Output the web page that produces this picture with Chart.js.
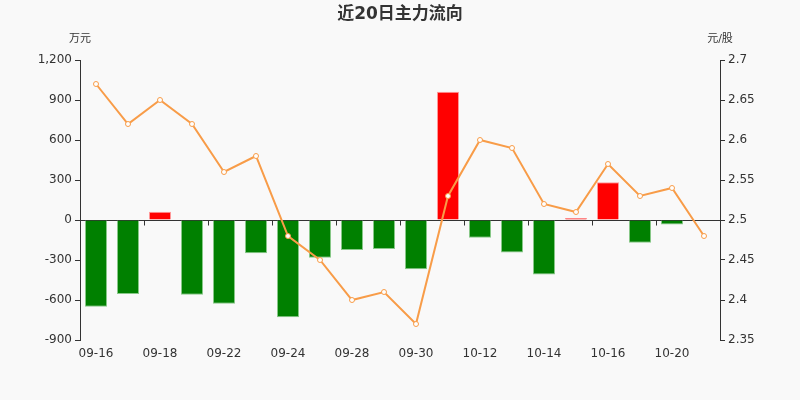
<!DOCTYPE html>
<html>
<head>
<meta charset="utf-8">
<script src="https://cdn.jsdelivr.net/npm/chart.js@4"></script>
<style>
html,body{margin:0;padding:0;background:#f9f9f9;}
#wrap{width:800px;height:400px;position:relative;}
</style>
</head>
<body>
<div id="wrap"><canvas id="c" width="800" height="400"></canvas></div>
<script>
const categories = ['09-16','09-17','09-18','09-21','09-22','09-23','09-24','09-25','09-28','09-29','09-30','10-09','10-12','10-13','10-14','10-15','10-16','10-19','10-20','10-21'];
const flowValues = [-650,-555,62,-560,-628,-250,-730,-283,-225,-218,-370,962,-133,-243,-408,15,283,-170,-33,null];
const priceValues = [2.67,2.62,2.65,2.62,2.56,2.58,2.48,2.45,2.40,2.41,2.37,2.53,2.60,2.59,2.52,2.51,2.57,2.53,2.54,2.48];
const leftTicks = [-900,-600,-300,0,300,600,900,1200];
const rightTicks = [2.35,2.4,2.45,2.5,2.55,2.6,2.65,2.7];
const titleText = '近20日主力流向';
const leftUnit = '万元';
const rightUnit = '元/股';

const barColors = flowValues.map(v => (v !== null && v >= 0) ? '#ff0000' : '#008000');
const barBorders = flowValues.map(v => (v !== null && v >= 0) ? '#ff9a9a' : '#88c888');

const overlay = {
  id: 'overlay',
  beforeDatasetsDraw(chart) {
    const ctx = chart.ctx, a = chart.chartArea, y = chart.scales.y;
    const y0 = Math.round(y.getPixelForValue(0)) + 0.5;
    ctx.save();
    ctx.strokeStyle = '#333';
    ctx.lineWidth = 1;
    ctx.beginPath();
    ctx.moveTo(a.left, y0); ctx.lineTo(a.right, y0);
    const step = (a.right - a.left) / categories.length;
    for (let i = 0; i <= categories.length; i += 2) {
      const px = Math.round(a.left + step * i) + 0.5;
      ctx.moveTo(px, y0); ctx.lineTo(px, y0 + 5);
    }
    ctx.stroke();
    ctx.restore();
  },
  afterDraw(chart) {
    const ctx = chart.ctx, a = chart.chartArea;
    ctx.save();
    ctx.fillStyle = '#333';
    ctx.textBaseline = 'middle';
    ctx.textAlign = 'center';
    ctx.font = 'bold 17px "DejaVu Sans", "Noto Sans CJK SC"';
    ctx.fillText(titleText, 400, 15);
    ctx.font = '11px "DejaVu Sans", "Noto Sans CJK SC"';
    ctx.fillText(leftUnit, a.left, 39);
    ctx.fillText(rightUnit, a.right, 39);
    ctx.restore();
  }
};

new Chart(document.getElementById('c'), {
  data: {
    labels: categories,
    datasets: [
      {
        type: 'line', label: '价格', data: priceValues, yAxisID: 'y1', order: 0,
        borderColor: '#f89c48', borderWidth: 2, tension: 0,
        pointRadius: 2.5, pointBackgroundColor: '#ffffff', pointBorderColor: '#f89c48', pointBorderWidth: 1
      },
      {
        type: 'bar', label: '主力', data: flowValues, yAxisID: 'y', order: 1,
        backgroundColor: barColors, borderColor: barBorders, borderWidth: 1,
        categoryPercentage: 1, barPercentage: 0.69
      }
    ]
  },
  options: {
    responsive: false, animation: false, devicePixelRatio: 1,
    layout: { padding: { top: 60, left: 0, right: 0, bottom: 0 } },
    plugins: { legend: { display: false }, tooltip: { enabled: false }, title: { display: false } },
    scales: {
      x: {
        position: 'bottom', offset: true,
        grid: { display: false }, border: { display: false },
        ticks: {
          autoSkip: false, maxRotation: 0, padding: -1, color: '#333',
          font: { size: 12, family: '"DejaVu Sans"' },
          callback: (v, i) => i % 2 === 0 ? categories[i] : ''
        },
        afterFit: s => { s.height = 60; }
      },
      y: {
        position: 'left', min: -900, max: 1200,
        afterBuildTicks: s => { s.ticks = leftTicks.map(v => ({ value: v })); },
        afterFit: s => { s.width = 80; },
        grid: { drawOnChartArea: false, drawTicks: true, tickLength: 5, color: '#333' },
        border: { display: true, color: '#333' },
        ticks: { padding: 3, color: '#333', font: { size: 12, family: '"DejaVu Sans"' },
          callback: v => v.toLocaleString('en-US') }
      },
      y1: {
        position: 'right', min: 2.35, max: 2.7,
        afterBuildTicks: s => { s.ticks = rightTicks.map(v => ({ value: v })); },
        afterFit: s => { s.width = 80; },
        grid: { drawOnChartArea: false, drawTicks: true, tickLength: 5, color: '#333' },
        border: { display: true, color: '#333' },
        ticks: { padding: 3, color: '#333', font: { size: 12, family: '"DejaVu Sans"' },
          callback: v => String(+v.toFixed(2)) }
      }
    }
  },
  plugins: [overlay]
});
</script>
</body>
</html>
